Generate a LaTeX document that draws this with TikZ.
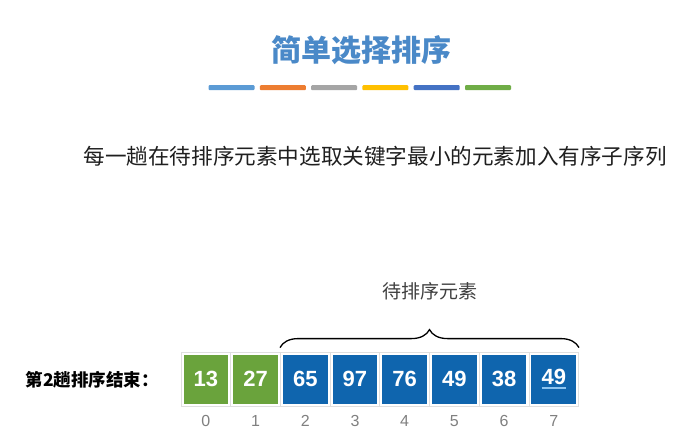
\documentclass[tikz,border=0pt]{standalone}
\usepackage{fontspec}
\setmainfont{Liberation Sans}
\newfontfamily\cjk{Noto Sans CJK SC}
\usetikzlibrary{positioning,decorations.pathreplacing}

\definecolor{titleblue}{RGB}{74,137,200}
\definecolor{sortgreen}{RGB}{106,163,60}
\definecolor{sortblue}{RGB}{15,101,174}
\definecolor{ulblue}{RGB}{140,196,240}
\definecolor{barA}{RGB}{91,155,213}
\definecolor{barB}{RGB}{237,125,49}
\definecolor{barC}{RGB}{165,165,165}
\definecolor{barD}{RGB}{255,192,0}
\definecolor{barE}{RGB}{68,114,196}
\definecolor{barF}{RGB}{112,173,71}

\newcommand\ulnum[1]{\setbox0\hbox{#1}\rlap{\textcolor{ulblue}{\rule[-4pt]{\wd0}{1.5pt}}}\box0}

\tikzset{
  cell/.style={draw=gray!25, line width=0.8pt, minimum width=49.7pt, minimum height=54pt,
    inner sep=0pt, text=white, font=\fontsize{22}{22}\selectfont\bfseries,
    path picture={\fill[#1] ([shift={(2.5pt,2.5pt)}]path picture bounding box.south west)
      rectangle ([shift={(-2.5pt,-2.5pt)}]path picture bounding box.north east);}},
  idx/.style={inner sep=0pt, below=9pt of #1, text=gray, font=\fontsize{16}{16}\selectfont},
  bar/.style={fill=#1, minimum width=46pt, minimum height=5pt, inner sep=0pt, rounded corners=1pt},
  brc/.style={decorate, decoration={brace, amplitude=18pt, raise=4pt}, line width=1.3pt},
}

\begin{document}
\begin{tikzpicture}[x=1pt, y=-1pt]
    \useasboundingbox[fill=white] (0,0) rectangle (688,437);

    % title and colour bars
    \node[text=titleblue, font=\cjk\bfseries\fontsize{30}{30}\selectfont] (title) at (361,50) {简单选择排序};
    \node[bar=barA] (barA) at (231.5,87.7) {};
    \node[bar=barB] (barB) at (282.8,87.7) {};
    \node[bar=barC] (barC) at (334.1,87.7) {};
    \node[bar=barD] (barD) at (385.4,87.7) {};
    \node[bar=barE] (barE) at (436.7,87.7) {};
    \node[bar=barF] (barF) at (488.0,87.7) {};

    \node[anchor=west, text=black!88, font=\cjk\fontsize{21.6}{22}\selectfont] (rule) at (80,156)
        {每一趟在待排序元素中选取关键字最小的元素加入有序子序列};

    % array after pass 2
    \node[anchor=west, font=\cjk\bfseries\fontsize{17.5}{18}\selectfont] (pass) at (22,380) {第2趟排序结束：};
    \node[cell=sortgreen] (c0) at (205.85,379) {13};
    \node[cell=sortgreen] (c1) at (255.55,379) {27};
    \node[cell=sortblue]  (c2) at (305.25,379) {65};
    \node[cell=sortblue]  (c3) at (354.95,379) {97};
    \node[cell=sortblue]  (c4) at (404.65,379) {76};
    \node[cell=sortblue]  (c5) at (454.35,379) {49};
    \node[cell=sortblue]  (c6) at (504.05,379) {38};
    \node[cell=sortblue]  (c7) at (553.75,379) {\ulnum{49}};

    \node[idx=c0] (i0) {0};
    \node[idx=c1] (i1) {1};
    \node[idx=c2] (i2) {2};
    \node[idx=c3] (i3) {3};
    \node[idx=c4] (i4) {4};
    \node[idx=c5] (i5) {5};
    \node[idx=c6] (i6) {6};
    \node[idx=c7] (i7) {7};

    \draw[brc] (c2.north west) -- (c7.north east)
        node[midway, above=48pt, text=black!75, font=\cjk\fontsize{19}{20}\selectfont] (rest) {待排序元素};
\end{tikzpicture}
\end{document}
